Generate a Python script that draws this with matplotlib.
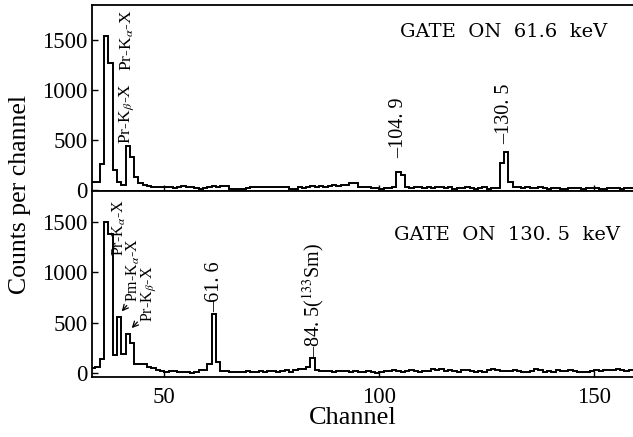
import numpy as np
import matplotlib
matplotlib.use("Agg")
import matplotlib.pyplot as plt

plt.rcParams['font.family'] = ['Liberation Serif', 'DejaVu Serif']
plt.rcParams['mathtext.fontset'] = 'stix'

channels = list(range(33, 159))

counts_gate_61 = [
    80, 80, 260, 1540, 1270, 200, 80, 50, 440, 330,        # 33-42
    130, 70, 55, 40, 35, 30, 30, 35, 30, 25,               # 43-52
    30, 40, 35, 30, 20, 15, 20, 35, 40, 35,                # 53-62
    45, 40, 15, 10, 15, 15, 20, 30, 30, 35,                # 63-72
    30, 35, 30, 35, 30, 30, 10, 15, 30, 25,                # 73-82
    35, 40, 35, 40, 35, 45, 50, 45, 50, 55,                # 83-92
    75, 75, 35, 30, 35, 25, 20, 15, 20, 25,                # 93-102
    35, 180, 150, 30, 25, 30, 35, 25, 30, 20,              # 103-112
    35, 30, 25, 30, 15, 20, 25, 30, 20, 15,                # 113-122
    25, 30, 15, 20, 25, 270, 380, 80, 35, 30,              # 123-132
    25, 30, 20, 25, 30, 25, 15, 20, 25, 15,                # 133-142
    15, 20, 25, 20, 15, 20, 20, 25, 15, 15,                # 143-152
    20, 25, 20, 15, 25, 20,                                # 153-158
]

counts_gate_130 = [
    50, 55, 140, 1500, 1380, 180, 560, 190, 390, 300,      # 33-42
    90, 90, 85, 55, 50, 25, 20, 10, 15, 20,                # 43-52
    5, 5, 10, 0, 10, 25, 30, 85, 580, 110,                 # 53-62
    15, 15, 10, 5, 10, 5, 15, 10, 5, 15,                   # 63-72
    10, 20, 15, 10, 20, 25, 10, 30, 40, 40,                # 73-82
    60, 145, 25, 20, 15, 15, 10, 15, 20, 15,               # 83-92
    10, 15, 5, 10, 15, 10, 0, 10, 20, 15,                  # 93-102
    30, 15, 10, 20, 25, 20, 10, 15, 20, 35,                # 103-112
    30, 35, 20, 25, 15, 10, 30, 25, 15, 5,                 # 113-122
    15, 10, 25, 35, 30, 20, 15, 20, 25, 15,                # 123-132
    5, 10, 20, 35, 30, 10, 15, 10, 30, 15,                 # 133-142
    20, 25, 20, 10, 5, 10, 20, 25, 20, 30,                 # 143-152
    25, 30, 35, 30, 20, 25,                                # 153-158
]

x_ticks = [50, 100, 150]
y_ticks = [0, 500, 1000, 1500]
gate_labels = ["GATE  ON  61.6  keV", "GATE  ON  130. 5  keV"]

edges = np.append(np.array(channels, dtype=float), channels[-1] + 1)

fig = plt.figure(figsize=(6.33, 4.37), dpi=100)
ax1 = fig.add_axes([92/633, 1-191/437, 1-92/633, 186/437])
ax2 = fig.add_axes([92/633, 1-377/437, 1-92/633, 186/437])

for ax, vals, ylim in [(ax1, counts_gate_61, (-7, 1850)), (ax2, counts_gate_130, (-40, 1805))]:
    ax.stairs(vals, edges, baseline=None, color='black', linewidth=1.4)
    ax.set_xlim(33.2, 159.0)
    ax.set_ylim(*ylim)
    ax.set_yticks(y_ticks)
    ax.set_xticks(x_ticks)
    ax.spines['right'].set_visible(False)
    for s in ['left', 'top', 'bottom']:
        ax.spines[s].set_linewidth(1.3)
    ax.tick_params(direction='in', length=4, width=1.0, labelsize=16.5, pad=3)

ax1.tick_params(axis='x', labelbottom=False)
ax2.tick_params(axis='x', pad=7)

lab_fs = 12.5
lab_fs2 = 11.5
num_fs = 14.5
gate_font = dict(family=['DejaVu Serif'], fontsize=14)
# top panel annotations
ax1.text(41.3, 1190, r"Pr-K$_\alpha$-X", rotation=90, ha='center', va='bottom', fontsize=lab_fs)
ax1.text(41.3, 460, r"Pr-K$_\beta$-X", rotation=90, ha='center', va='bottom', fontsize=lab_fs)
ax1.text(104.6, 320, "\u2013104. 9", rotation=90, ha='center', va='bottom', fontsize=num_fs)
ax1.text(129.2, 465, "\u2013130. 5", rotation=90, ha='center', va='bottom', fontsize=num_fs)
ax1.text(0.76, 0.855, gate_labels[0], transform=ax1.transAxes, ha='center', va='center', **gate_font)

# bottom panel annotations
ax2.text(39.5, 1160, r"Pr-K$_\alpha$-X", rotation=90, ha='center', va='bottom', fontsize=lab_fs2)
ax2.text(42.8, 700, r"Pm-K$_\alpha$-X", rotation=90, ha='center', va='bottom', fontsize=lab_fs2)
ax2.text(46.6, 510, r"Pr-K$_\beta$-X", rotation=90, ha='center', va='bottom', fontsize=lab_fs2)
ax2.annotate("", xy=(39.7, 590), xytext=(41.7, 690),
             arrowprops=dict(arrowstyle='->', color='black', lw=0.9))
ax2.annotate("", xy=(42.0, 425), xytext=(44.2, 525),
             arrowprops=dict(arrowstyle='->', color='black', lw=0.9))
ax2.text(61.8, 600, "\u201361. 6", rotation=90, ha='center', va='bottom', fontsize=num_fs)
ax2.text(84.6, 155, "\u201384. 5($^{133}$Sm)", rotation=90, ha='center', va='bottom', fontsize=num_fs)
ax2.text(0.768, 0.766, gate_labels[1], transform=ax2.transAxes, ha='center', va='center', **gate_font)

fig.text(353/633, 1-418/437, "Channel", ha='center', va='center', fontsize=19)
fig.text(20/633, 1-195/437, "Counts per channel", ha='center', va='center', rotation=90, fontsize=18.5)

fig.savefig("out.png", dpi=100)
